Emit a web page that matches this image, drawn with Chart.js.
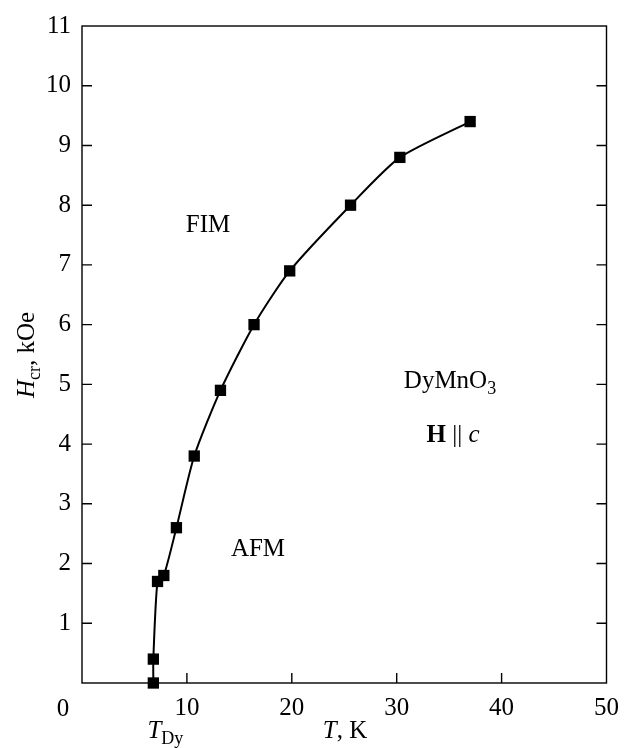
<!DOCTYPE html>
<html lang="en">
<head>
    <meta charset="UTF-8">
    <title>DyMnO3 critical field</title>
    <script src="https://cdn.jsdelivr.net/npm/chart.js"></script>
    <style>
        body { margin: 0; background: #fff; }
    </style>
</head>
<body>
    <canvas id="phaseChart" width="629" height="748"></canvas>
    <script>
        // data
        const tempK = [6.8, 6.8, 7.2, 7.8, 9.0, 10.7, 13.2, 16.4, 19.8, 25.6, 30.3, 37.0];
        const hCrit = [0, 0.4, 1.7, 1.8, 2.6, 3.8, 4.9, 6.0, 6.9, 8.0, 8.8, 9.4];
        const xTicks = [0, 10, 20, 30, 40, 50];
        const yTicks = [1, 2, 3, 4, 5, 6, 7, 8, 9, 10, 11];

        const serif = '"Liberation Serif", "DejaVu Serif", serif';

        function drawParts(ctx, parts, x, y, align) {
            let total = 0;
            parts.forEach(p => {
                ctx.font = p.font;
                p.w = ctx.measureText(p.t).width;
                total += p.w;
            });
            let cx = align === 'center' ? x - total / 2 : x;
            parts.forEach(p => {
                ctx.font = p.font;
                ctx.fillText(p.t, cx, y + (p.dy || 0));
                cx += p.w;
            });
        }

        const framePlugin = {
            id: 'frame',
            beforeDatasetsDraw(chart) {
                const ctx = chart.ctx;
                const a = chart.chartArea;
                const xs = chart.scales.x, ys = chart.scales.y;
                ctx.save();
                ctx.strokeStyle = '#000';
                ctx.lineWidth = 1.4;
                ctx.strokeRect(a.left, a.top, a.right - a.left, a.bottom - a.top);
                ctx.beginPath();
                yTicks.forEach(v => {
                    if (v >= 11) return;
                    const py = ys.getPixelForValue(v);
                    ctx.moveTo(a.left, py); ctx.lineTo(a.left + 10, py);
                    ctx.moveTo(a.right, py); ctx.lineTo(a.right - 10, py);
                });
                xTicks.forEach(v => {
                    if (v <= 0 || v >= 50) return;
                    const px = xs.getPixelForValue(v);
                    ctx.moveTo(px, a.bottom); ctx.lineTo(px, a.bottom - 10);
                });
                ctx.stroke();
                ctx.restore();
            },
            afterDraw(chart) {
                const ctx = chart.ctx;
                const a = chart.chartArea;
                const xs = chart.scales.x;
                ctx.save();
                ctx.fillStyle = '#000';
                ctx.textBaseline = 'alphabetic';
                ctx.textAlign = 'left';
                const f = '25px ' + serif;
                const fi = 'italic 25px ' + serif;
                const fb = 'bold 25px ' + serif;
                const fs = '18px ' + serif;

                // origin label
                drawParts(ctx, [{ t: '0', font: f }], a.left - 19, a.bottom + 33, 'center');
                // x axis title
                drawParts(ctx, [{ t: 'T', font: fi }, { t: ', K', font: f }], 345, 738, 'center');
                // T_Dy under the transition point
                drawParts(ctx, [{ t: 'T', font: fi }, { t: 'Dy', font: fs, dy: 6 }], xs.getPixelForValue(tempK[0]) + 12, 738, 'center');

                // region labels
                drawParts(ctx, [{ t: 'FIM', font: f }], 208, 232, 'center');
                drawParts(ctx, [{ t: 'AFM', font: f }], 258, 556, 'center');
                drawParts(ctx, [{ t: 'DyMnO', font: f }, { t: '3', font: fs, dy: 6 }], 450, 388, 'center');
                drawParts(ctx, [{ t: 'H', font: fb }, { t: ' || ', font: f }, { t: 'c', font: fi }], 453, 442, 'center');

                // y axis title (rotated)
                ctx.translate(34, 398);
                ctx.rotate(-Math.PI / 2);
                drawParts(ctx, [{ t: 'H', font: fi }, { t: 'cr', font: fs, dy: 6 }, { t: ', kOe', font: f }], 0, 0, 'left');
                ctx.restore();
            }
        };

        new Chart(document.getElementById('phaseChart'), {
            type: 'scatter',
            data: {
                datasets: [{
                    data: tempK.map((t, i) => ({ x: t, y: hCrit[i] })),
                    showLine: true,
                    tension: 0.22,
                    borderColor: '#000',
                    borderWidth: 2,
                    pointStyle: 'rect',
                    pointRadius: 8,
                    pointBorderWidth: 0,
                    pointBackgroundColor: '#000',
                    clip: false
                }]
            },
            options: {
                responsive: false,
                animation: false,
                layout: { padding: { top: 20, right: 22, left: 0, bottom: 0 } },
                plugins: { legend: { display: false }, tooltip: { enabled: false } },
                scales: {
                    x: {
                        type: 'linear', min: 0, max: 50,
                        afterBuildTicks: s => { s.ticks = xTicks.map(v => ({ value: v })); },
                        afterFit: s => { s.height = 65; },
                        grid: { display: false, drawTicks: false },
                        border: { display: false },
                        ticks: {
                            padding: 10,
                            color: '#000',
                            font: { family: serif, size: 25 },
                            callback: v => (v === 0 ? '' : v)
                        }
                    },
                    y: {
                        type: 'linear', min: 0, max: 11,
                        afterBuildTicks: s => { s.ticks = yTicks.map(v => ({ value: v })); },
                        afterFit: s => { s.width = 82; },
                        grid: { display: false, drawTicks: false },
                        border: { display: false },
                        ticks: {
                            padding: 11,
                            color: '#000',
                            font: { family: serif, size: 25 }
                        }
                    }
                }
            },
            plugins: [framePlugin]
        });
    </script>
</body>
</html>
